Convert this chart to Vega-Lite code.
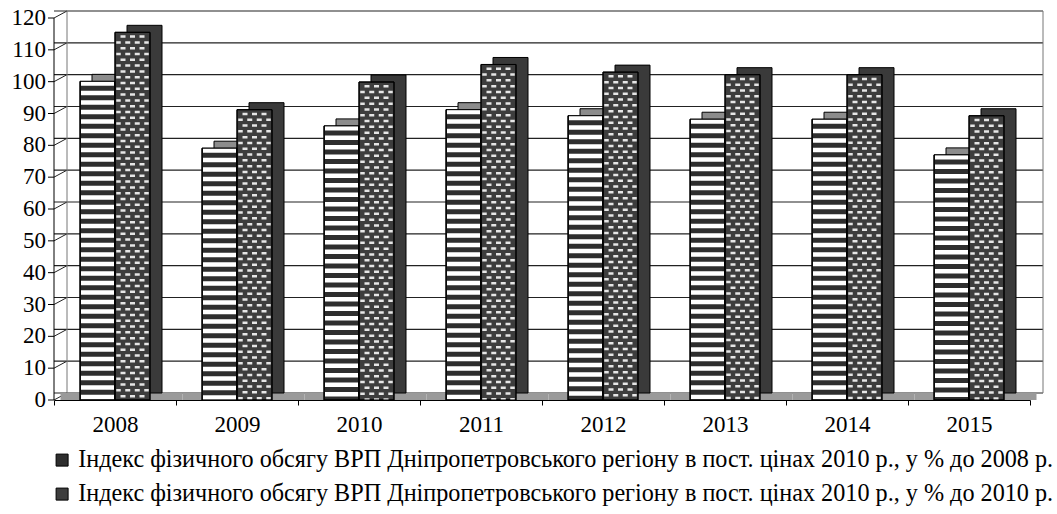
{
  "$schema": "https://vega.github.io/schema/vega-lite/v6.json",
  "width": 976,
  "height": 382,
  "autosize": {"type": "none"},
  "padding": {"left": 54, "top": 18, "right": 27, "bottom": 114},
  "background": "white",
  "config": {
    "view": {"stroke": null},
    "font": "Liberation Serif",
    "scale": {"bandPaddingInner": 0, "bandPaddingOuter": 0},
    "axis": {
      "labelFont": "Liberation Serif", "labelColor": "black", "domainColor": "black",
      "tickColor": "black", "grid": false, "title": null, "zindex": 1, "labelFontSize": 23
    },
    "axisX": {
      "labelPadding": 8, "tickBand": "extent", "tickSize": 5, "labelAngle": 0,
      "labelFontSize": 23
    }
  },
  "datasets": {
    "bars": [
      {"year": "2008", "base": "2008", "series": "Індекс фізичного обсягу ВРП Дніпропетровського регіону в пост. цінах 2010 р., у % до 2008 р.", "value": 100.1},
      {"year": "2009", "base": "2008", "series": "Індекс фізичного обсягу ВРП Дніпропетровського регіону в пост. цінах 2010 р., у % до 2008 р.", "value": 79.1},
      {"year": "2010", "base": "2008", "series": "Індекс фізичного обсягу ВРП Дніпропетровського регіону в пост. цінах 2010 р., у % до 2008 р.", "value": 86.1},
      {"year": "2011", "base": "2008", "series": "Індекс фізичного обсягу ВРП Дніпропетровського регіону в пост. цінах 2010 р., у % до 2008 р.", "value": 91.2},
      {"year": "2012", "base": "2008", "series": "Індекс фізичного обсягу ВРП Дніпропетровського регіону в пост. цінах 2010 р., у % до 2008 р.", "value": 89.3},
      {"year": "2013", "base": "2008", "series": "Індекс фізичного обсягу ВРП Дніпропетровського регіону в пост. цінах 2010 р., у % до 2008 р.", "value": 88.2},
      {"year": "2014", "base": "2008", "series": "Індекс фізичного обсягу ВРП Дніпропетровського регіону в пост. цінах 2010 р., у % до 2008 р.", "value": 88.2},
      {"year": "2015", "base": "2008", "series": "Індекс фізичного обсягу ВРП Дніпропетровського регіону в пост. цінах 2010 р., у % до 2008 р.", "value": 77.0},
      {"year": "2008", "base": "2010", "series": "Індекс фізичного обсягу ВРП Дніпропетровського регіону в пост. цінах 2010 р., у % до 2010 р.", "value": 115.5},
      {"year": "2009", "base": "2010", "series": "Індекс фізичного обсягу ВРП Дніпропетровського регіону в пост. цінах 2010 р., у % до 2010 р.", "value": 91.2},
      {"year": "2010", "base": "2010", "series": "Індекс фізичного обсягу ВРП Дніпропетровського регіону в пост. цінах 2010 р., у % до 2010 р.", "value": 99.9},
      {"year": "2011", "base": "2010", "series": "Індекс фізичного обсягу ВРП Дніпропетровського регіону в пост. цінах 2010 р., у % до 2010 р.", "value": 105.4},
      {"year": "2012", "base": "2010", "series": "Індекс фізичного обсягу ВРП Дніпропетровського регіону в пост. цінах 2010 р., у % до 2010 р.", "value": 103.0},
      {"year": "2013", "base": "2010", "series": "Індекс фізичного обсягу ВРП Дніпропетровського регіону в пост. цінах 2010 р., у % до 2010 р.", "value": 102.2},
      {"year": "2014", "base": "2010", "series": "Індекс фізичного обсягу ВРП Дніпропетровського регіону в пост. цінах 2010 р., у % до 2010 р.", "value": 102.2},
      {"year": "2015", "base": "2010", "series": "Індекс фізичного обсягу ВРП Дніпропетровського регіону в пост. цінах 2010 р., у % до 2010 р.", "value": 89.3}
    ],
    "grid": [
      {"level": 0}, {"level": 10}, {"level": 20}, {"level": 30}, {"level": 40},
      {"level": 50}, {"level": 60}, {"level": 70}, {"level": 80}, {"level": 90},
      {"level": 100}, {"level": 110}, {"level": 120}
    ]
  },
  "layer": [
    {
      "data": {"name": "grid"},
      "mark": {"type": "rule", "color": "#222222", "strokeWidth": 1.2, "xOffset": 13, "yOffset": -7},
      "encoding": {
        "y": {"field": "level", "type": "quantitative", "title": null, "axis": null, "scale": {"domain": [0, 120], "nice": false}}
      }
    },
    {
      "data": {"name": "grid"},
      "mark": {"type": "rule", "color": "#222222", "strokeWidth": 1, "x2Offset": 13, "y2Offset": -7},
      "encoding": {
        "x": {"datum": "2008", "type": "nominal", "bandPosition": 0},
        "x2": {"datum": "2008", "bandPosition": 0},
        "y": {"field": "level", "type": "quantitative", "title": null, "axis": null, "scale": {"domain": [0, 120], "nice": false}},
        "y2": {"field": "level"}
      }
    },
    {
      "data": {"name": "bars"},
      "transform": [{"filter": "datum.base == '2008'"}],
      "mark": {"type": "rect", "fill": "#9a9a9a", "xOffset": 6.5, "x2Offset": 6.5, "y2Offset": -7},
      "encoding": {
        "x": {"field": "year", "type": "nominal", "title": null},
        "y": {"datum": 0, "type": "quantitative", "axis": null, "scale": {"domain": [0, 120], "nice": false}},
        "y2": {"datum": 0}
      }
    },
    {
      "data": {"name": "grid"},
      "transform": [{"filter": "datum.level == 0"}],
      "mark": {"type": "rule", "color": "#777777", "strokeWidth": 1, "xOffset": 13, "yOffset": -7, "y2Offset": -7},
      "encoding": {
        "x": {"datum": "2008", "type": "nominal", "bandPosition": 0},
        "y": {"datum": 120, "type": "quantitative", "axis": null, "scale": {"domain": [0, 120], "nice": false}},
        "y2": {"datum": 0}
      }
    },
    {
      "data": {"name": "grid"},
      "transform": [{"filter": "datum.level == 0"}],
      "mark": {"type": "rule", "color": "#777777", "strokeWidth": 1, "xOffset": 13, "yOffset": -7, "y2Offset": -7},
      "encoding": {
        "x": {"datum": "2015", "type": "nominal", "bandPosition": 1},
        "y": {"datum": 120, "type": "quantitative", "axis": null, "scale": {"domain": [0, 120], "nice": false}},
        "y2": {"datum": 0}
      }
    },
    {
      "data": {"name": "bars"},
      "transform": [{"filter": "datum.base == '2008'"}],
      "mark": {"type": "bar", "width": 35, "fill": "#8c8c8c", "stroke": "black", "strokeWidth": 1, "xOffset": -5.5, "yOffset": -7, "y2Offset": -7},
      "encoding": {
        "x": {"field": "year", "type": "nominal", "title": null},
        "y": {"field": "value", "type": "quantitative", "title": null, "axis": null, "scale": {"domain": [0, 120], "nice": false}}
      }
    },
    {
      "data": {"name": "bars"},
      "transform": [{"filter": "datum.base == '2010'"}],
      "mark": {"type": "bar", "width": 35, "fill": "#3a3a3a", "stroke": "black", "strokeWidth": 1, "xOffset": 29.5, "yOffset": -7, "y2Offset": -7},
      "encoding": {
        "x": {"field": "year", "type": "nominal", "title": null},
        "y": {"field": "value", "type": "quantitative", "title": null, "axis": null, "scale": {"domain": [0, 120], "nice": false}}
      }
    },
    {
      "data": {"name": "bars"},
      "mark": {"type": "bar", "stroke": "black", "strokeWidth": 1},
      "encoding": {
        "x": {"field": "year", "type": "nominal", "title": null},
        "xOffset": {"field": "series", "type": "nominal", "scale": {"paddingInner": 0, "paddingOuter": 0.743}},
        "y": {"field": "value", "type": "quantitative", "title": null, "axis": null, "scale": {"domain": [0, 120], "nice": false}},
        "color": {
          "field": "series", "type": "nominal",
          "scale": {"range": ["#2e2e2e", "#3d3d3d"]},
          "legend": {
            "title": null, "orient": "none", "legendX": -4, "legendY": 430, "direction": "vertical",
            "labelFont": "Liberation Serif", "labelFontSize": 24.2, "labelColor": "black",
            "symbolType": "square", "symbolSize": 144, "symbolStrokeColor": "black",
            "symbolStrokeWidth": 1, "symbolOpacity": 1, "rowPadding": 9, "labelOffset": 4,
            "padding": 0, "labelLimit": 1100
          }
        }
      }
    },
    {
      "data": {"name": "bars"},
      "transform": [{"filter": "datum.base == '2008'"}],
      "mark": {"type": "rule", "color": "white", "strokeWidth": 33, "strokeDash": [4.5, 5], "xOffset": -17.5},
      "encoding": {
        "x": {"field": "year", "type": "nominal", "title": null},
        "y": {"field": "value", "type": "quantitative", "title": null, "axis": null, "scale": {"domain": [0, 120], "nice": false}},
        "y2": {"datum": 0}
      }
    },
    {
      "data": {"name": "bars"},
      "transform": [{"filter": "datum.base == '2010'"}],
      "mark": {"type": "rule", "color": "#e6e6e6", "strokeWidth": 5, "strokeDash": [2.5, 9.1], "strokeDashOffset": -3, "xOffset": 8},
      "encoding": {
        "x": {"field": "year", "type": "nominal", "title": null},
        "y": {"field": "value", "type": "quantitative", "title": null, "axis": null, "scale": {"domain": [0, 120], "nice": false}},
        "y2": {"datum": 0}
      }
    },
    {
      "data": {"name": "bars"},
      "transform": [{"filter": "datum.base == '2010'"}],
      "mark": {"type": "rule", "color": "#e6e6e6", "strokeWidth": 5, "strokeDash": [2.5, 9.1], "strokeDashOffset": -3, "xOffset": 17.5},
      "encoding": {
        "x": {"field": "year", "type": "nominal", "title": null},
        "y": {"field": "value", "type": "quantitative", "title": null, "axis": null, "scale": {"domain": [0, 120], "nice": false}},
        "y2": {"datum": 0}
      }
    },
    {
      "data": {"name": "bars"},
      "transform": [{"filter": "datum.base == '2010'"}],
      "mark": {"type": "rule", "color": "#e6e6e6", "strokeWidth": 5, "strokeDash": [2.5, 9.1], "strokeDashOffset": -3, "xOffset": 27},
      "encoding": {
        "x": {"field": "year", "type": "nominal", "title": null},
        "y": {"field": "value", "type": "quantitative", "title": null, "axis": null, "scale": {"domain": [0, 120], "nice": false}},
        "y2": {"datum": 0}
      }
    },
    {
      "data": {"name": "bars"},
      "transform": [{"filter": "datum.base == '2010'"}],
      "mark": {"type": "rule", "color": "#e6e6e6", "strokeWidth": 4.5, "strokeDash": [2.5, 9.1], "strokeDashOffset": -8.8, "xOffset": 3.5},
      "encoding": {
        "x": {"field": "year", "type": "nominal", "title": null},
        "y": {"field": "value", "type": "quantitative", "title": null, "axis": null, "scale": {"domain": [0, 120], "nice": false}},
        "y2": {"datum": 0}
      }
    },
    {
      "data": {"name": "bars"},
      "transform": [{"filter": "datum.base == '2010'"}],
      "mark": {"type": "rule", "color": "#e6e6e6", "strokeWidth": 5, "strokeDash": [2.5, 9.1], "strokeDashOffset": -8.8, "xOffset": 12.75},
      "encoding": {
        "x": {"field": "year", "type": "nominal", "title": null},
        "y": {"field": "value", "type": "quantitative", "title": null, "axis": null, "scale": {"domain": [0, 120], "nice": false}},
        "y2": {"datum": 0}
      }
    },
    {
      "data": {"name": "bars"},
      "transform": [{"filter": "datum.base == '2010'"}],
      "mark": {"type": "rule", "color": "#e6e6e6", "strokeWidth": 5, "strokeDash": [2.5, 9.1], "strokeDashOffset": -8.8, "xOffset": 22.25},
      "encoding": {
        "x": {"field": "year", "type": "nominal", "title": null},
        "y": {"field": "value", "type": "quantitative", "title": null, "axis": null, "scale": {"domain": [0, 120], "nice": false}},
        "y2": {"datum": 0}
      }
    },
    {
      "data": {"name": "bars"},
      "transform": [{"filter": "datum.base == '2010'"}],
      "mark": {"type": "rule", "color": "#e6e6e6", "strokeWidth": 4.5, "strokeDash": [2.5, 9.1], "strokeDashOffset": -8.8, "xOffset": 31.5},
      "encoding": {
        "x": {"field": "year", "type": "nominal", "title": null},
        "y": {"field": "value", "type": "quantitative", "title": null, "axis": null, "scale": {"domain": [0, 120], "nice": false}},
        "y2": {"datum": 0}
      }
    },
    {
      "data": {"name": "bars"},
      "mark": {"type": "bar", "fillOpacity": 0, "stroke": "black", "strokeWidth": 1},
      "encoding": {
        "x": {"field": "year", "type": "nominal", "title": null},
        "xOffset": {"field": "series", "type": "nominal", "scale": {"paddingInner": 0, "paddingOuter": 0.743}},
        "y": {"field": "value", "type": "quantitative", "title": null, "axis": null, "scale": {"domain": [0, 120], "nice": false}}
      }
    },
    {
      "data": {"name": "grid"},
      "transform": [{"filter": "datum.level == 0"}],
      "mark": {"type": "rule", "color": "black", "strokeWidth": 1},
      "encoding": {
        "x": {"datum": "2008", "type": "nominal", "bandPosition": 0},
        "y": {"datum": 0, "type": "quantitative", "axis": null, "scale": {"domain": [0, 120], "nice": false}},
        "y2": {"datum": 120}
      }
    },
    {
      "data": {"name": "grid"},
      "mark": {"type": "rule", "color": "black", "strokeWidth": 1, "x2Offset": -6},
      "encoding": {
        "x": {"datum": "2008", "type": "nominal", "bandPosition": 0},
        "x2": {"datum": "2008", "bandPosition": 0},
        "y": {"field": "level", "type": "quantitative", "title": null, "axis": null, "scale": {"domain": [0, 120], "nice": false}},
        "y2": {"field": "level"}
      }
    },
    {
      "data": {"name": "grid"},
      "mark": {"type": "text", "align": "right", "baseline": "middle", "font": "Liberation Serif", "fontSize": 23, "color": "black", "xOffset": -8},
      "encoding": {
        "x": {"datum": "2008", "type": "nominal", "bandPosition": 0},
        "y": {"field": "level", "type": "quantitative", "title": null, "axis": null, "scale": {"domain": [0, 120], "nice": false}},
        "text": {"field": "level", "type": "quantitative"}
      }
    }
  ]
}
